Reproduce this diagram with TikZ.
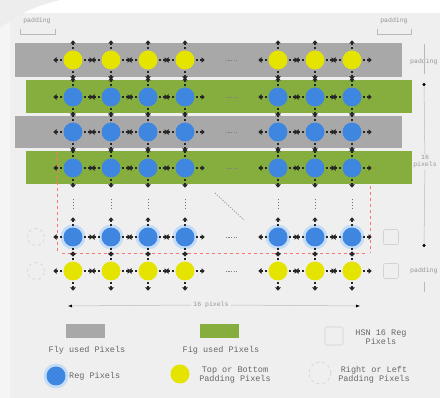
\documentclass[tikz,border=0pt]{standalone}
\usepackage{fontspec}
\setmonofont{Liberation Mono}
\usetikzlibrary{arrows.meta}
\definecolor{bg}{HTML}{EFEFEF}
\definecolor{bandgray}{HTML}{A8A8A8}
\definecolor{bandgreen}{HTML}{86AE3F}
\definecolor{pixblue}{HTML}{3E86E0}
\definecolor{pixyellow}{HTML}{E4E400}
\definecolor{halo}{HTML}{C4DCF6}
\definecolor{txt}{HTML}{666666}
\definecolor{faint}{HTML}{959595}
\begin{document}
\begin{tikzpicture}[x=1pt,y=-1pt,font=\ttfamily,
  reg/.style={circle,fill=pixblue,minimum size=19pt,inner sep=0pt},
  pad/.style={circle,fill=pixyellow,minimum size=19pt,inner sep=0pt},
  lrpad/.style={circle,draw=gray!35,dashed,line width=0.6pt,minimum size=17pt,inner sep=0pt},
  sqpad/.style={rectangle,rounded corners=2pt,draw=gray!35,line width=0.6pt,minimum size=15pt,inner sep=0pt},
  arr/.style={line width=2.4pt,black!85,dash pattern=on 2.6pt off 2pt,-{Triangle[length=3.2pt,width=5.5pt]}},
  dotl/.style={black!50,line width=0.8pt,dash pattern=on 1.2pt off 1.4pt},
  vdotl/.style={black!55,line width=1pt,dash pattern=on 1.5pt off 1.5pt},
  reddash/.style={red!55,line width=0.5pt,dash pattern=on 3pt off 3pt},
  lbl/.style={text=txt,font=\ttfamily\fontsize{8.5}{9}\selectfont,inner sep=0pt,align=center},
  smlbl/.style={text=faint,font=\ttfamily\fontsize{6.5}{7}\selectfont,inner sep=0pt,align=center},
  dim/.style={gray!55,line width=0.5pt}]
\useasboundingbox (0,0) rectangle (440,398);
\fill[bg] (0,0) rectangle (440,398);
\fill[gray!8] (0,0) rectangle (10,398);
\fill[white] (10,0) rectangle (440,13);
\fill[gray!14] (0,0) -- (60,0) .. controls (35,6) and (18,14) .. (0,28) -- cycle;
% bands
\fill[bandgray] (15,43) rectangle (402,77);
\fill[bandgreen] (26,80) rectangle (412,113);
\fill[bandgray] (15,116) rectangle (402,148);
\fill[bandgreen] (26,151) rectangle (412,184);
% red dashed markers
\draw[reddash] (57,152) -- (57,253);
\draw[reddash] (370,186) -- (370,253);
\draw[reddash] (62,253) -- (365,253);
% pixels
\foreach \r/\y/\s in {1/60/pad,2/97/reg,3/132/reg,4/168/reg,5/237/reg,6/271/pad}{
  \foreach \c/\x in {1/73,2/111,3/148,4/185,5/278,6/315,7/352}{
    \ifnum\r=5 \fill[halo] (\x,\y) circle (12.5pt); \fi
    \node[\s] (p\r-\c) at (\x,\y) {};
    \draw[arr] ([xshift=1pt]p\r-\c.east) -- ++(9,0);
    \draw[arr] ([xshift=-1pt]p\r-\c.west) -- ++(-9,0);
    \draw[arr] ([yshift=1pt]p\r-\c.north) -- ++(0,-9);
    \draw[arr] ([yshift=-1pt]p\r-\c.south) -- ++(0,9);
  }
  \draw[dotl,shorten <=31pt,shorten >=31pt] (p\r-4) -- (p\r-5);
}
\foreach \c in {1,...,7}{
  \draw[vdotl,shorten <=21pt,shorten >=19pt] (p4-\c) -- (p5-\c);
}
\coordinate (dg1) at (215,193);
\coordinate (dg2) at (244,220);
\draw[dotl,black!40] (dg1) -- (dg2);
% left / right padding pixels
\node[lrpad] (lp5) at (36,237) {};
\node[lrpad] (lp6) at (36,271) {};
\node[sqpad] (rp5) at (391,237) {};
\node[sqpad] (rp6) at (391,271) {};
% top padding labels
\node[smlbl] (tpl) at (37,21) {padding};
\draw[dim] (20,29) -- (20,34) -- (55,34) -- (55,29);
\node[smlbl] (tpr) at (394,21) {padding};
\draw[dim] (377,29) -- (377,34) -- (411,34) -- (411,29);
% right side labels
\node[smlbl,anchor=west] (rpt) at (410,62) {padding};
\node[smlbl,anchor=west] (rpb) at (410,271) {padding};
\node[smlbl,fill=bg,inner sep=1pt] (h16) at (425,162) {16\\pixels};
\coordinate (vt) at (424,83);
\coordinate (vb) at (424,247);
\draw[dim] (424,44) -- (424,74);
\draw[dim] (424,282) -- (424,292);
\draw[dim,{Circle[length=3pt,black]}-] (vt) -- (h16);
\draw[dim,-{Circle[length=3pt,black]}] (h16) -- (vb);
% bottom width label
\node[smlbl,fill=bg,inner sep=2pt] (w16) at (211,305) {16 pixels};
\coordinate (wl) at (68,306);
\coordinate (wr) at (360,306);
\draw[dim,{Latex[length=4pt,black]}-] (wl) -- (w16.west);
\draw[dim,-{Latex[length=4pt,black]}] (w16.east) -- (wr);
% legend
\node[fill=bandgray,minimum width=39pt,minimum height=14pt,inner sep=0pt] (lg1) at (85,331) {};
\node[lbl] (lt1) at (87,350) {Fly used Pixels};
\node[fill=bandgreen,minimum width=39pt,minimum height=14pt,inner sep=0pt] (lg2) at (219,331) {};
\node[lbl] (lt2) at (221,350) {Fig used Pixels};
\node[sqpad,minimum size=18pt] (lg3) at (334,336) {};
\node[lbl] (lt3) at (381,337) {HSN 16 Reg\\Pixels};
\fill[halo] (56,376) circle (12.5pt);
\node[reg] (lg4) at (56,376) {};
\node[lbl,anchor=west] (lt4) at (69,376) {Reg Pixels};
\node[pad] (lg5) at (180,374) {};
\node[lbl] (lt5) at (235,375) {Top or Bottom\\Padding Pixels};
\node[lrpad,minimum size=22pt] (lg6) at (320,373) {};
\node[lbl] (lt6) at (374,375) {Right or Left\\Padding Pixels};
\end{tikzpicture}
\end{document}
